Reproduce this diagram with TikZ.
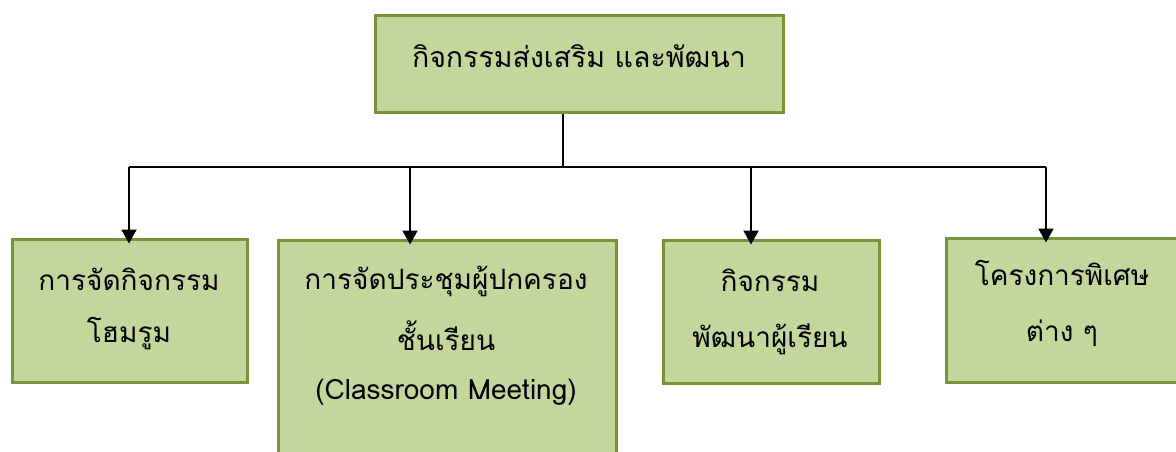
\documentclass[tikz,border=0pt]{standalone}
\usepackage{fontspec}
\setmainfont[Script=Thai]{Loma}
\usetikzlibrary{arrows.meta}
\definecolor{boxfill}{HTML}{C3D69B}
\definecolor{boxline}{HTML}{77933C}
\tikzset{
  box/.style={draw=boxline, fill=boxfill, line width=3pt, inner sep=0pt},
  lbl/.style={inner sep=0pt, font=\fontsize{28}{32}\selectfont},
  toplbl/.style={inner sep=0pt, font=\fontsize{28.5}{34}\selectfont},
  conn/.style={line width=2pt, black},
  arr/.style={conn, -{Triangle[length=14pt,width=15pt]}}
}
\begin{document}
\begin{tikzpicture}[x=1pt,y=-1pt]
\useasboundingbox (0,0) rectangle (1176,452);
% boxes
\node (top) [box, minimum width=408pt, minimum height=96pt] at (579,64) {};
\node (b1) [box, minimum width=235pt, minimum height=143pt] at (129.5,310.5) {};
\node (b2) [box, minimum width=338pt, minimum height=240pt] at (447,360) {};
\node (b3) [box, minimum width=216pt, minimum height=143pt] at (771,311.5) {};
\node (b4) [box, minimum width=240pt, minimum height=144pt] at (1066,310) {};
% texts
\node (t0) [toplbl] at (579,56) {กิจกรรมส่งเสริม และพัฒนา};
\node (t1a) [lbl] at (129,279) {การจัดกิจกรรม};
\node (t1b) [lbl] at (129,334) {โฮมรูม};
\node (t2a) [lbl] at (446,281) {การจัดประชุมผู้ปกครอง};
\node (t2b) [lbl] at (446,336) {ชั้นเรียน};
\node (t2c) [lbl] at (446,392) {(Classroom Meeting)};
\node (t3a) [lbl] at (770,280) {กิจกรรม};
\node (t3b) [lbl] at (770,339) {พัฒนาผู้เรียน};
\node (t4a) [lbl] at (1062,273) {โครงการพิเศษ};
\node (t4b) [lbl] at (1062,333) {ต่าง ๆ};
% connectors
\coordinate (j) at (563,167);
\coordinate (j1) at (129,167);
\coordinate (j2) at (410,167);
\coordinate (j3) at (751,167);
\coordinate (j4) at (1046,167);
\draw[conn] (top.south -| j) -- (j);
\draw[conn] (j1) -- (j4);
\draw[arr] (j1) -- ([yshift=-6pt]b1.north -| j1);
\draw[arr] (j2) -- ([yshift=-6pt]b2.north -| j2);
\draw[arr] (j3) -- ([yshift=-6pt]b3.north -| j3);
\draw[arr] (j4) -- ([yshift=-6pt]b4.north -| j4);
\end{tikzpicture}
\end{document}
